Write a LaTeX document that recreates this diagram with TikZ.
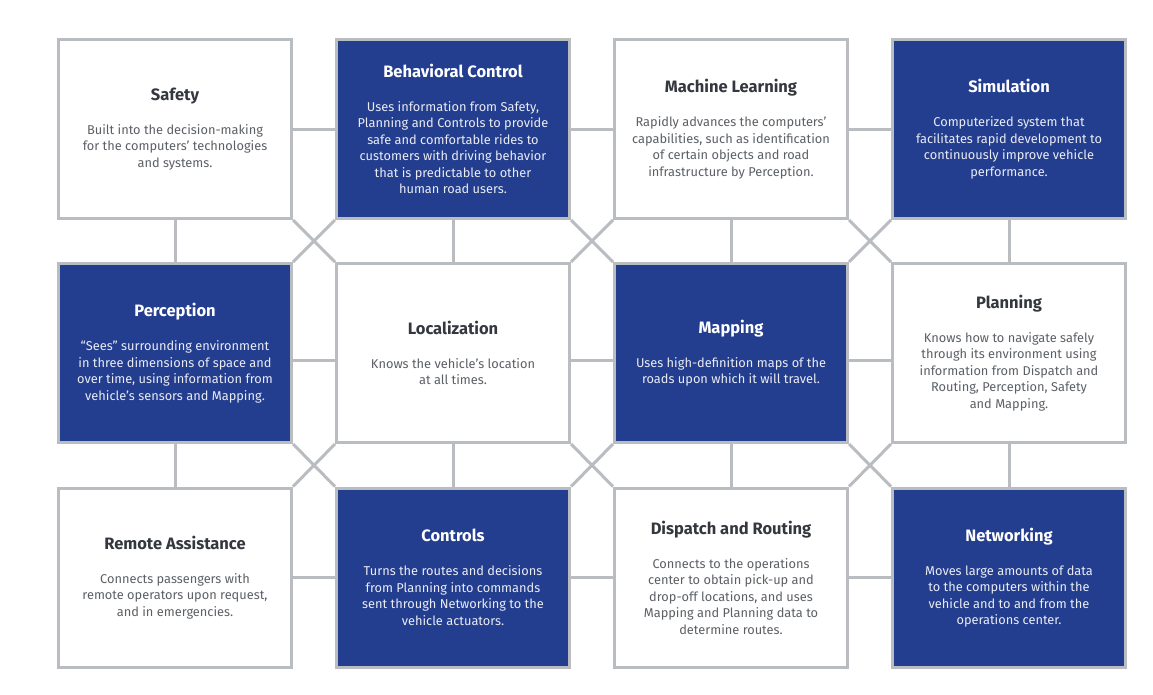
\documentclass[tikz,border=0pt]{standalone}
\usepackage{fontspec}
\setmainfont{Fira Sans}
\definecolor{linegray}{RGB}{185,188,192}
\definecolor{navy}{RGB}{35,61,143}
\definecolor{titlegray}{RGB}{52,56,62}
\definecolor{bodygray}{RGB}{92,96,101}
\definecolor{bodylight}{RGB}{234,236,243}
% card headings
\newcommand\wtitle[1]{{\fontsize{16.5}{18}\selectfont\bfseries\color{titlegray}#1}\\[17.5pt]}
\newcommand\btitle[1]{{\fontsize{16.5}{18}\selectfont\bfseries\color{white}#1}\\[17.5pt]}
\tikzset{
  card/.style={draw=linegray, line width=3pt, minimum width=233pt, minimum height=179pt,
    inner sep=0pt, align=center, font=\fontsize{12.8}{16.5}\selectfont},
  whitecard/.style={card, fill=white, text=bodygray},
  bluecard/.style={card, fill=navy, text=bodylight},
  link/.style={draw=linegray, line width=3pt}
}
\begin{document}
\begin{tikzpicture}[x=1pt,y=-1pt]
\useasboundingbox (0,0) rectangle (1153,694);

% row 1
\node[whitecard] (safety) at (175,129) {\wtitle{Safety}Built into the decision-making\\for the computers’ technologies\\and systems.};
\node[bluecard] (behav) at (453,129) {\btitle{Behavioral Control}Uses information from Safety,\\Planning and Controls to provide\\safe and comfortable rides to\\customers with driving behavior\\that is predictable to other\\human road users.};
\node[whitecard] (ml) at (731,129) {\wtitle{Machine Learning}Rapidly advances the computers’\\capabilities, such as identification\\of certain objects and road\\infrastructure by Perception.};
\node[bluecard] (sim) at (1009,129) {\btitle{Simulation}Computerized system that\\facilitates rapid development to\\continuously improve vehicle\\performance.};

% row 2
\node[bluecard] (perc) at (175,353) {\btitle{Perception}“Sees” surrounding environment\\in three dimensions of space and\\over time, using information from\\vehicle’s sensors and Mapping.};
\node[whitecard] (loc) at (453,353) {\wtitle{Localization}Knows the vehicle’s location\\at all times.};
\node[bluecard] (map) at (731,353) {\btitle{Mapping}Uses high-definition maps of the\\roads upon which it will travel.};
\node[whitecard] (plan) at (1009,353) {\wtitle{Planning}Knows how to navigate safely\\through its environment using\\information from Dispatch and\\Routing, Perception, Safety\\and Mapping.};

% row 3
\node[whitecard] (remote) at (175,577.5) {\wtitle{Remote Assistance}Connects passengers with\\remote operators upon request,\\and in emergencies.};
\node[bluecard] (ctrl) at (453,577.5) {\btitle{Controls}Turns the routes and decisions\\from Planning into commands\\sent through Networking to the\\vehicle actuators.};
\node[whitecard] (disp) at (731,577.5) {\wtitle{Dispatch and Routing}Connects to the operations\\center to obtain pick-up and\\drop-off locations, and uses\\Mapping and Planning data to\\determine routes.};
\node[bluecard] (net) at (1009,577.5) {\btitle{Networking}Moves large amounts of data\\to the computers within the\\vehicle and to and from the\\operations center.};

% horizontal links
\foreach \a/\b in {safety/behav, behav/ml, ml/sim, remote/ctrl, ctrl/disp, disp/net}
  \draw[link] (\a.east) -- (\b.west);
\foreach \a/\b in {perc/loc, loc/map, map/plan}
  \draw[link] ([yshift=-7pt]\a.east) -- ([yshift=-7pt]\b.west);

% vertical links
\foreach \a/\b in {safety/perc, behav/loc, ml/map, sim/plan, perc/remote, loc/ctrl, map/disp, plan/net}
  \draw[link] (\a.south) -- (\b.north);

% diagonal crossings at the inner corners
\foreach \tl/\tr/\bl/\br in {safety/behav/perc/loc, behav/ml/loc/map, ml/sim/map/plan,
                             perc/loc/remote/ctrl, loc/map/ctrl/disp, map/plan/disp/net} {
  \draw[link] (\tl.south east) -- (\br.north west);
  \draw[link] (\tr.south west) -- (\bl.north east);
}
\end{tikzpicture}
\end{document}
